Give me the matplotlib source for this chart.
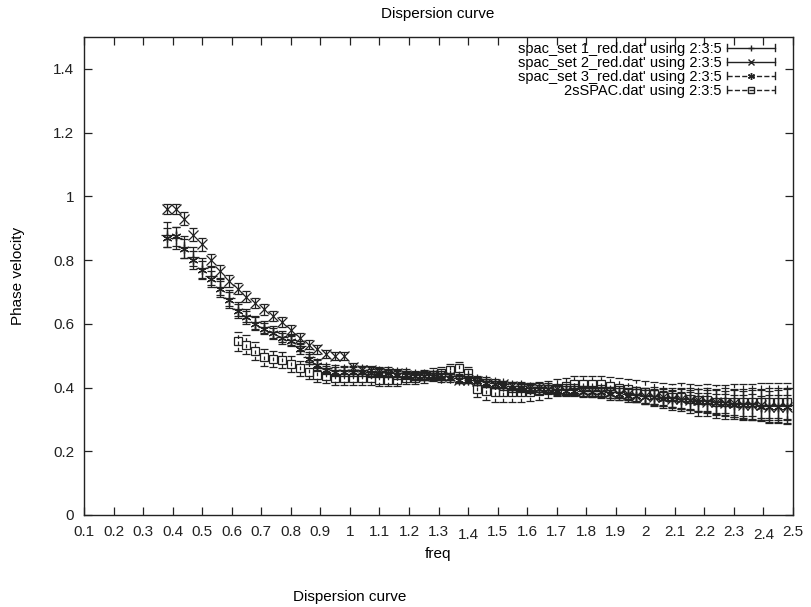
import numpy as np
import matplotlib
matplotlib.use("Agg")
import matplotlib.pyplot as plt
import matplotlib.transforms as mtransforms
from matplotlib.lines import Line2D
from matplotlib.legend_handler import HandlerBase

plt.rcParams['font.family'] = ['Liberation Sans', 'DejaVu Sans']
plt.rcParams['font.size'] = 11

# frequency grid of the spac_set files (regular sampling)
freq = np.round(np.arange(0.38, 2.481, 0.03), 2)
freq_2s = freq[8:]  # 2sSPAC starts at 0.62

# phase velocity
set1 = [0.88, 0.87, 0.84, 0.81, 0.775, 0.75, 0.715, 0.68, 0.645, 0.625,
        0.605, 0.59, 0.575, 0.56, 0.55, 0.53, 0.495, 0.475, 0.46, 0.455,
        0.455, 0.455, 0.455, 0.45, 0.45, 0.45, 0.445, 0.445, 0.44, 0.44,
        0.44, 0.435, 0.435, 0.43, 0.43, 0.425, 0.42, 0.415, 0.41, 0.405,
        0.405, 0.40, 0.40, 0.40, 0.395, 0.395, 0.395, 0.39, 0.39, 0.39,
        0.385, 0.385, 0.38, 0.38, 0.375, 0.375, 0.37, 0.37, 0.365, 0.365,
        0.36, 0.36, 0.355, 0.355, 0.35, 0.35, 0.35, 0.345, 0.345, 0.345, 0.345]
set2 = [0.96, 0.96, 0.93, 0.88, 0.85, 0.80, 0.765, 0.735, 0.71, 0.685,
        0.665, 0.645, 0.625, 0.605, 0.58, 0.555, 0.535, 0.52, 0.505, 0.50,
        0.50, 0.465, 0.455, 0.455, 0.45, 0.445, 0.445, 0.44, 0.435, 0.435,
        0.44, 0.44, 0.435, 0.425, 0.425, 0.42, 0.415, 0.41, 0.41, 0.405,
        0.40, 0.40, 0.40, 0.395, 0.395, 0.39, 0.39, 0.39, 0.385, 0.385,
        0.385, 0.38, 0.38, 0.375, 0.375, 0.37, 0.37, 0.365, 0.365, 0.36,
        0.36, 0.355, 0.355, 0.35, 0.35, 0.345, 0.345, 0.345, 0.34, 0.34, 0.34]
set3 = [0.87, 0.875, 0.835, 0.80, 0.77, 0.74, 0.71, 0.675, 0.64, 0.62,
        0.60, 0.585, 0.57, 0.555, 0.545, 0.52, 0.49, 0.47, 0.455, 0.45,
        0.45, 0.45, 0.45, 0.445, 0.445, 0.445, 0.44, 0.44, 0.435, 0.435,
        0.435, 0.43, 0.43, 0.425, 0.425, 0.42, 0.415, 0.41, 0.405, 0.40,
        0.40, 0.395, 0.395, 0.395, 0.39, 0.39, 0.39, 0.385, 0.385, 0.385,
        0.38, 0.38, 0.375, 0.375, 0.37, 0.37, 0.365, 0.365, 0.36, 0.36,
        0.355, 0.355, 0.35, 0.35, 0.345, 0.345, 0.345, 0.34, 0.34, 0.34, 0.34]
sspac = [0.545, 0.535, 0.515, 0.495, 0.49, 0.485, 0.475, 0.46, 0.45, 0.44,
         0.435, 0.43, 0.43, 0.43, 0.43, 0.43, 0.425, 0.425, 0.425, 0.43,
         0.43, 0.435, 0.44, 0.445, 0.455, 0.46, 0.445, 0.395, 0.39, 0.385,
         0.385, 0.385, 0.385, 0.385, 0.39, 0.395, 0.40, 0.405, 0.41, 0.41,
         0.41, 0.41, 0.405, 0.40, 0.395, 0.39, 0.385, 0.38, 0.375, 0.37,
         0.37, 0.365, 0.36, 0.36, 0.355, 0.355, 0.355, 0.355, 0.355, 0.355,
         0.355, 0.355, 0.355]

# error bar half widths (column 5)
err1 = [0.04, 0.035, 0.035, 0.03, 0.03, 0.028, 0.025, 0.025, 0.022, 0.02,
        0.02, 0.02, 0.018, 0.018, 0.018, 0.016, 0.016, 0.015, 0.015, 0.015,
        0.014, 0.014, 0.014, 0.013, 0.013, 0.013, 0.013, 0.013, 0.012, 0.012,
        0.012, 0.012, 0.012, 0.012, 0.012, 0.012, 0.012, 0.012, 0.012, 0.012,
        0.013, 0.013, 0.013, 0.014, 0.014, 0.015, 0.015, 0.016, 0.016, 0.017,
        0.018, 0.019, 0.02, 0.022, 0.024, 0.026, 0.028, 0.03, 0.032, 0.034,
        0.036, 0.038, 0.04, 0.042, 0.044, 0.046, 0.048, 0.05, 0.052, 0.054, 0.055]
err2 = [0.015, 0.015, 0.02, 0.02, 0.02, 0.02, 0.02, 0.018, 0.018, 0.018,
        0.016, 0.016, 0.016, 0.015, 0.015, 0.015, 0.014, 0.014, 0.013, 0.013,
        0.013, 0.012, 0.012, 0.012, 0.012, 0.011, 0.011, 0.011, 0.011, 0.011,
        0.011, 0.011, 0.011, 0.011, 0.011, 0.011, 0.011, 0.011, 0.011, 0.012,
        0.012, 0.012, 0.013, 0.013, 0.013, 0.014, 0.014, 0.015, 0.015, 0.016,
        0.017, 0.018, 0.019, 0.02, 0.022, 0.024, 0.026, 0.028, 0.03, 0.032,
        0.034, 0.036, 0.038, 0.04, 0.042, 0.044, 0.046, 0.048, 0.05, 0.052, 0.054]
err3 = [0.03, 0.03, 0.03, 0.028, 0.028, 0.026, 0.025, 0.024, 0.022, 0.02,
        0.02, 0.018, 0.018, 0.017, 0.016, 0.016, 0.015, 0.015, 0.014, 0.014,
        0.013, 0.013, 0.013, 0.012, 0.012, 0.012, 0.012, 0.012, 0.012, 0.012,
        0.012, 0.012, 0.012, 0.012, 0.012, 0.012, 0.012, 0.012, 0.013, 0.013,
        0.013, 0.013, 0.014, 0.014, 0.014, 0.015, 0.015, 0.016, 0.016, 0.017,
        0.018, 0.019, 0.02, 0.021, 0.022, 0.023, 0.024, 0.025, 0.026, 0.027,
        0.028, 0.029, 0.03, 0.031, 0.032, 0.033, 0.034, 0.035, 0.036, 0.037, 0.038]
err_2s = [0.03, 0.03, 0.028, 0.026, 0.026, 0.025, 0.025, 0.024, 0.024, 0.023,
          0.022, 0.022, 0.022, 0.022, 0.022, 0.021, 0.021, 0.021, 0.02, 0.02,
          0.02, 0.02, 0.02, 0.02, 0.02, 0.02, 0.02, 0.025, 0.028, 0.03,
          0.03, 0.03, 0.03, 0.028, 0.028, 0.027, 0.026, 0.026, 0.026, 0.026,
          0.026, 0.027, 0.028, 0.03, 0.032, 0.034, 0.036, 0.038, 0.04, 0.042,
          0.044, 0.046, 0.048, 0.05, 0.052, 0.054, 0.055, 0.056, 0.057, 0.058,
          0.058, 0.058, 0.058]

labels = ["spac_set 1_red.dat' using 2:3:5",
          "spac_set 2_red.dat' using 2:3:5",
          "spac_set 3_red.dat' using 2:3:5",
          "2sSPAC.dat' using 2:3:5"]
xticks = [0.1, 0.2, 0.3, 0.4, 0.5, 0.6, 0.7, 0.8, 0.9, 1.0, 1.1, 1.2, 1.3,
          1.4, 1.5, 1.6, 1.7, 1.8, 1.9, 2.0, 2.1, 2.2, 2.3, 2.4, 2.5]
xticklabels = ['0.1', '0.2', '0.3', '0.4', '0.5', '0.6', '0.7', '0.8', '0.9', '1',
               '1.1', '1.2', '1.3', '1.4', '1.5', '1.6', '1.7', '1.8', '1.9', '2',
               '2.1', '2.2', '2.3', '2.4', '2.5']
yticks = [0, 0.2, 0.4, 0.6, 0.8, 1.0, 1.2, 1.4]
yticklabels = ['0', '0.2', '0.4', '0.6', '0.8', '1', '1.2', '1.4']


class GnuKey(HandlerBase):
    # gnuplot style key sample: |---marker---|
    def create_artists(self, legend, orig_handle, xdescent, ydescent,
                       width, height, fontsize, trans):
        y = height / 2 - ydescent
        x0, x1 = -xdescent, width - xdescent
        h = 2.5
        ls = orig_handle.get_linestyle()
        arts = [Line2D([x0, x1], [y, y], ls=ls, color='#222222', lw=1.0),
                Line2D([x0, x0], [y - h, y + h], color='#222222', lw=1.0),
                Line2D([x1, x1], [y - h, y + h], color='#222222', lw=1.0),
                Line2D([(x0 + x1) / 2], [y], ls='none', marker=orig_handle.get_marker(),
                       ms=5, mfc='none', mec='#222222', mew=1.0)]
        for a in arts:
            a.set_transform(trans)
        return arts


fig = plt.figure(figsize=(8.11, 6.07), dpi=100)
ax = fig.add_axes([84 / 811, 1 - 515 / 607, 709 / 811, 478 / 607])

styles = [(freq, set1, err1, '+', '-', 8),
          (freq, set2, err2, 'x', '-', 7),
          (freq, set3, err3, (6, 2, 0), (0, (3, 2)), 7),
          (freq_2s, sspac, err_2s, 's', (0, (3, 2)), 6)]
handles = []
for (x, y, e, mk, ls, ms), lab in zip(styles, labels):
    eb = ax.errorbar(x, y, yerr=e, fmt='none', ecolor='#222222', elinewidth=0.9,
                     capsize=3, capthick=0.9)
    for lc in eb.lines[2]:
        lc.set_linestyle(ls)
    ax.plot(x, y, ls='none', marker=mk, ms=ms, mfc='none', mec='#222222', mew=0.9)
    handles.append(Line2D([], [], ls=ls, marker=mk, ms=ms, label=lab))

ax.set_xlim(0.1, 2.5)
ax.set_ylim(0, 1.5)
ax.set_xticks(xticks)
ax.set_xticklabels(xticklabels)
ax.set_yticks(yticks)
ax.set_yticklabels(yticklabels)
ax.tick_params(direction='in', length=6, width=0.9, top=True, right=True,
               labelsize=11, pad=7, colors='#222222')
for s in ax.spines.values():
    s.set_linewidth(1.0)
    s.set_color('#222222')

# gnuplot put 1.4 and 2.4 a bit lower
shift = mtransforms.ScaledTranslation(0, -3 / 100, fig.dpi_scale_trans)
for lab in ax.get_xticklabels():
    if lab.get_text() in ('1.4', '2.4'):
        lab.set_transform(lab.get_transform() + shift)

ax.legend(handles=handles, loc='upper right', bbox_to_anchor=(0.975, 0.99),
          frameon=False, markerfirst=False, handler_map={Line2D: GnuKey()},
          handlelength=3.3, handleheight=0.5, handletextpad=0.4, labelspacing=0.0,
          borderpad=0, borderaxespad=0, fontsize=10.5)

fig.text(438 / 811, 1 - 14 / 607, 'Dispersion curve', ha='center', va='center', fontsize=11)
fig.text(438 / 811, 1 - 554 / 607, 'freq', ha='center', va='center', fontsize=11)
fig.text(18 / 811, 1 - 276 / 607, 'Phase velocity', ha='center', va='center',
         rotation=90, fontsize=11)
fig.text(350 / 811, 1 - 597 / 607, 'Dispersion curve', ha='center', va='center', fontsize=11)

fig.savefig('out.png', dpi=100)
